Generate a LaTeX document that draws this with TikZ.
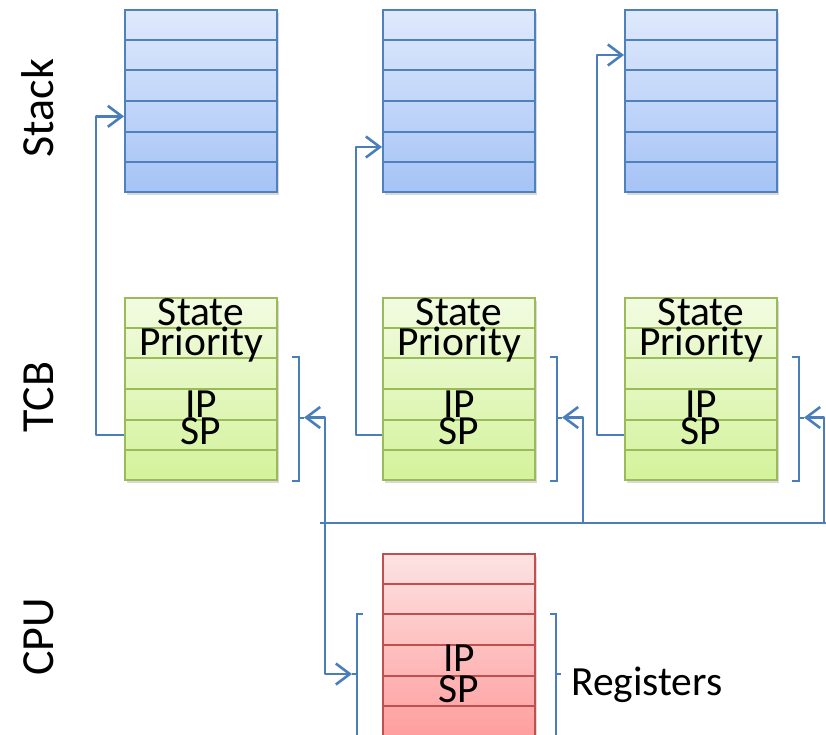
\documentclass[tikz,border=0pt]{standalone}
\usepackage{fontspec}
\setmainfont{Carlito}
\usetikzlibrary{arrows.meta,calc,shadows}
\definecolor{blueline}{HTML}{4A7EBB}
\definecolor{stacktop}{HTML}{DFE9FC}
\definecolor{stackbot}{HTML}{A5C3F6}
\definecolor{stackedge}{HTML}{4F81BD}
\definecolor{tcbtop}{HTML}{F2FBE1}
\definecolor{tcbbot}{HTML}{D3F39B}
\definecolor{tcbedge}{HTML}{9BBB59}
\definecolor{cputop}{HTML}{FDE3E3}
\definecolor{cpubot}{HTML}{FF9E9E}
\definecolor{cpuedge}{HTML}{C0504D}
\begin{document}
\begin{tikzpicture}[x=1pt,y=-1pt,
  box/.style={rectangle, anchor=north west, minimum width=152pt, minimum height=182pt,
    inner sep=0pt, line width=2pt,
    drop shadow={shadow xshift=2pt, shadow yshift=-3pt, opacity=0.3}},
  stackbox/.style={box, draw=stackedge, top color=stacktop, bottom color=stackbot},
  tcbbox/.style={box, draw=tcbedge, top color=tcbtop, bottom color=tcbbot},
  cpubox/.style={box, draw=cpuedge, top color=cputop, bottom color=cpubot},
  rowline/.style={line width=1.8pt},
  conn/.style={draw=blueline, line width=2.6pt},
  brk/.style={draw=blueline, line width=2pt},
  tipped/.style={conn, line join=round, -{Straight Barb[length=14pt,width=21pt,line width=2.6pt]}},
  big/.style={font=\fontsize{41.5}{41.5}\selectfont, inner sep=0pt, anchor=base},
  side/.style={font=\fontsize{46}{46}\selectfont, inner sep=0pt, anchor=base, rotate=90},
]
\useasboundingbox (0,0) rectangle (826,735);

% side labels
\node[side] (lstack) at (53,108) {Stack};
\node[side] (ltcb) at (53,397) {TCB};
\node[side] (lcpu) at (53,637) {CPU};

% boxes
\node[stackbox] (s1) at (124,9) {};
\node[stackbox] (s2) at (382,9) {};
\node[stackbox] (s3) at (624,9) {};
\node[tcbbox] (t1) at (124,297) {};
\node[tcbbox] (t2) at (382,297) {};
\node[tcbbox] (t3) at (624,297) {};
\node[cpubox] (c) at (382,553) {};

% row lines
\foreach \n/\col in {s1/stackedge,s2/stackedge,s3/stackedge,t1/tcbedge,t2/tcbedge,t3/tcbedge,c/cpuedge}{
  \foreach \i in {1,...,5}{
    \draw[rowline, draw=\col] ($(\n.north west)!{\i/6}!(\n.south west)$) -- ($(\n.north east)!{\i/6}!(\n.south east)$);
  }
}

% TCB texts
\foreach \n in {t1,t2,t3}{
  \node[big] (\n-state) at ($(\n.north)+(0,28)$) {State};
  \node[big] (\n-prio) at ($(\n.north)+(0,58)$) {Priority};
  \node[big] (\n-ip) at ($(\n.north)+(0,120)$) {IP};
  \node[big] (\n-sp) at ($(\n.north)+(0,147)$) {SP};
}
% CPU texts
\node[big] (c-ip) at ($(c.north)+(0,118)$) {IP};
\node[big] (c-sp) at ($(c.north)+(0,149)$) {SP};

% TCB brackets
\foreach \n/\k in {t1/b1,t2/b2,t3/b3}{
  \draw[brk] ($(\n.north east)+(14,60)$) -- ++(7,0) -- ($(\n.south east)+(21,0)$) -- ++(-7,0);
  \draw[brk] ($(\n.north east)+(21,120.5)$) -- ++(5,0) coordinate (\k);
}

% CPU brackets
\draw[brk] ($(c.north west)+(-19,61)$) -- ++(-6,0) -- ($(c.south west)+(-25,4)$) -- ++(6,0);
\draw[brk] ($(c.north west)+(-25,121)$) -- ++(-5,0) coordinate (bc);
\draw[brk] ($(c.north east)+(14,61)$) -- ++(6,0) -- ($(c.south east)+(20,4)$) -- ++(-6,0);
\draw[brk] ($(c.north east)+(20,121)$) -- ++(5,0) coordinate (rc);
\node[big, anchor=base west] (reg) at (571,695) {Registers};

% stack pointers
\coordinate (t1sp) at ($(t1.north west)!{4.5/6}!(t1.south west)$);
\coordinate (t2sp) at ($(t2.north west)!{4.5/6}!(t2.south west)$);
\coordinate (t3sp) at ($(t3.north west)!{4.5/6}!(t3.south west)$);
\coordinate (s1in) at ($(s1.north west)!{3.5/6}!(s1.south west)$);
\coordinate (s2in) at ($(s2.north west)!{4.5/6}!(s2.south west)$);
\coordinate (s3in) at ($(s3.north west)!{1.5/6}!(s3.south west)$);
\draw[tipped] (t1sp) -- ++(-28,0) |- (s1in);
\draw[tipped] (t2sp) -- ++(-26,0) |- (s2in);
\draw[tipped] (t3sp) -- ++(-27,0) |- (s3in);

% bus
\coordinate (busL) at (320,523);
\coordinate (busR) at (826,523);
\coordinate (j1) at (325,523);
\coordinate (j2) at (583,523);
\coordinate (j3) at (824,523);
\draw[conn] (busL) -- (busR);
\draw[tipped] (j1) |- (b1);
\draw[tipped] (j1) |- (bc);
\draw[tipped] (j2) |- (b2);
\draw[tipped] (j3) |- (b3);
\end{tikzpicture}
\end{document}
